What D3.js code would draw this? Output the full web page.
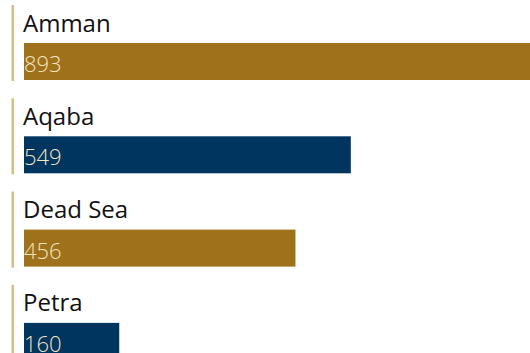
<!DOCTYPE html>
<html>
<head>
<meta charset="utf-8">
<script src="https://cdn.jsdelivr.net/npm/d3@7"></script>
<style>
    html, body { margin: 0; padding: 0; background: #fff; overflow: hidden; }
    text { font-family: "Segoe UI", "Open Sans", "Noto Sans", sans-serif; }
</style>
</head>
<body>
<div id="main"></div>
<script>
const cities = ["Amman", "Aqaba", "Dead Sea", "Petra"];
const visitors = [893, 549, 456, 160];
const barColors = ["#9e711a", "#00355f", "#9e711a", "#00355f"];

const width = 530;
const height = 353;
const margin = ({ top: 5, left: 24 });
const step = 93.3;

const y = d3.scaleBand()
    .domain(cities)
    .range([margin.top, margin.top + step * cities.length])
    .padding(0);

const x = d3.scaleLinear()
    .domain([0, 850])
    .range([margin.left, width]);

const svg = d3.create("svg")
    .attr("width", width)
    .attr("height", height)
    .attr("viewBox", [0, 0, width, height]);

const data = cities.map((c, i) => ({ city: c, value: visitors[i], color: barColors[i] }));

const g = svg.append("g")
    .selectAll("g")
    .data(data)
    .join("g")
    .attr("transform", d => `translate(0,${y(d.city)})`);

// accent line on the left
g.append("rect")
    .attr("x", 11.5)
    .attr("y", 0)
    .attr("width", 2.5)
    .attr("height", 76)
    .attr("fill", "#d6bc8c");

g.append("text")
    .attr("x", 23)
    .attr("y", 26.5)
    .attr("font-size", 24)
    .attr("fill", "#111")
    .text(d => d.city);

g.append("rect")
    .attr("x", x(0))
    .attr("y", 38)
    .attr("width", d => x(d.value) - x(0))
    .attr("height", 37)
    .attr("fill", d => d.color);

g.append("text")
    .attr("x", x(0))
    .attr("y", 67)
    .attr("font-size", 22)
    .attr("font-weight", 300)
    .attr("fill", "#f3e4c2")
    .text(d => d.value);

d3.select("#main").append(() => svg.node());
</script>
</body>
</html>
